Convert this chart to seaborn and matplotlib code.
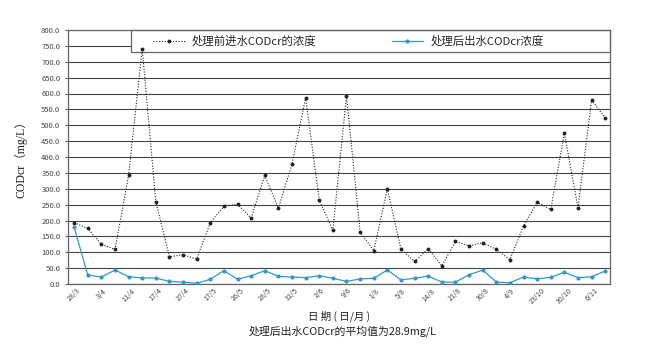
import numpy as np
import pandas as pd
import matplotlib
matplotlib.use("Agg")
import matplotlib.pyplot as plt
from matplotlib.patches import Rectangle
import seaborn as sns

# data
tick_labels = ["28/3", "3/4", "11/4", "17/4", "27/4", "17/5", "26/5", "28/5", "31/5", "2/6",
               "9/6", "1/8", "5/8", "14/8", "21/8", "30/8", "4/9", "23/10", "30/10", "6/11"]
influent = [193, 175, 125, 109, 342, 740, 259, 86, 92, 79,
            193, 245, 251, 208, 342, 238, 378, 587, 264, 169,
            593, 164, 105, 299, 110, 71, 111, 57, 134, 120,
            130, 109, 77, 183, 257, 235, 475, 240, 579, 524]
effluent = [179, 28, 22, 44, 23, 19, 19, 8, 6, 2,
            15, 42, 15, 26, 42, 24, 22, 20, 26, 18,
            8, 16, 18, 44, 13, 18, 25, 6, 6, 29,
            44, 6, 4, 22, 16, 21, 37, 20, 23, 41]
series_names = ["处理前进水CODcr的浓度", "处理后出水CODcr浓度"]

sns.set_theme(style="white")
plt.rcParams['font.family'] = ['Noto Sans CJK SC', 'DejaVu Sans']

df = pd.DataFrame({"idx": np.arange(len(influent)),
                   series_names[0]: influent,
                   series_names[1]: effluent})

fig = plt.figure(figsize=(6.5, 3.58), dpi=100)
ax = fig.add_axes([68/650, 1-284/358, 542/650, 254/358])

sns.lineplot(data=df, x="idx", y=series_names[0], ax=ax, color="#222222",
             linestyle=(0, (1, 1.5)), linewidth=0.8, marker="o", markersize=2.8,
             markeredgewidth=0, label=series_names[0], zorder=3)
sns.lineplot(data=df, x="idx", y=series_names[1], ax=ax, color="#2f9ac9",
             linewidth=0.9, marker="o", markersize=3, markeredgewidth=0,
             label=series_names[1], zorder=3)

ax.set_ylim(0, 800)
ax.set_xlim(-0.45, len(influent) - 0.65)
ax.set_yticks(np.arange(0, 801, 50))
ax.set_yticklabels([f"{v:.1f}" for v in np.arange(0, 801, 50)], fontsize=5.5, color="#444444")
ax.set_xticks(np.arange(0, len(influent), 2))
ax.set_xticklabels(tick_labels, rotation=45, fontsize=5.2, color="#444444",
                   ha="center", va="top")
ax.tick_params(axis="x", length=0, pad=2)
ax.tick_params(axis="y", length=2.5, width=0.8, color="#666666", pad=3, left=True)
ax.yaxis.grid(True, color="#444444", linewidth=0.8)
ax.set_axisbelow(True)
for s in ax.spines.values():
    s.set_color("#666666")
    s.set_linewidth(0.9)

ax.set_xlabel("日 期 ( 日/月 )", fontsize=7.5, color="#222222", labelpad=3)
ax.set_ylabel("CODcr（mg/L）", fontsize=8.5, color="#222222",
              family=['Liberation Serif', 'Noto Sans CJK SC'], labelpad=10)

# legend box
x0 = (131 - 68) / 542
y0 = (284 - 52) / 254
ax.add_patch(Rectangle((x0, y0), 1 - x0, 1 - y0, transform=ax.transAxes,
                       facecolor="white", edgecolor="#666666", linewidth=0.9,
                       zorder=2.5, clip_on=False))
leg = ax.legend(loc="center left", bbox_to_anchor=((153 - 68) / 542, (y0 + 1) / 2),
                ncol=2, frameon=False, fontsize=8.2, borderaxespad=0, borderpad=0,
                handlelength=2.8, handletextpad=0.6, columnspacing=6.6)
leg.set_zorder(5)

fig.text(343/650, 1-331/358, "处理后出水CODcr的平均值为28.9mg/L", fontsize=7.8,
         ha="center", va="center", color="#222222")

fig.savefig("out.png", dpi=100, facecolor="white")
